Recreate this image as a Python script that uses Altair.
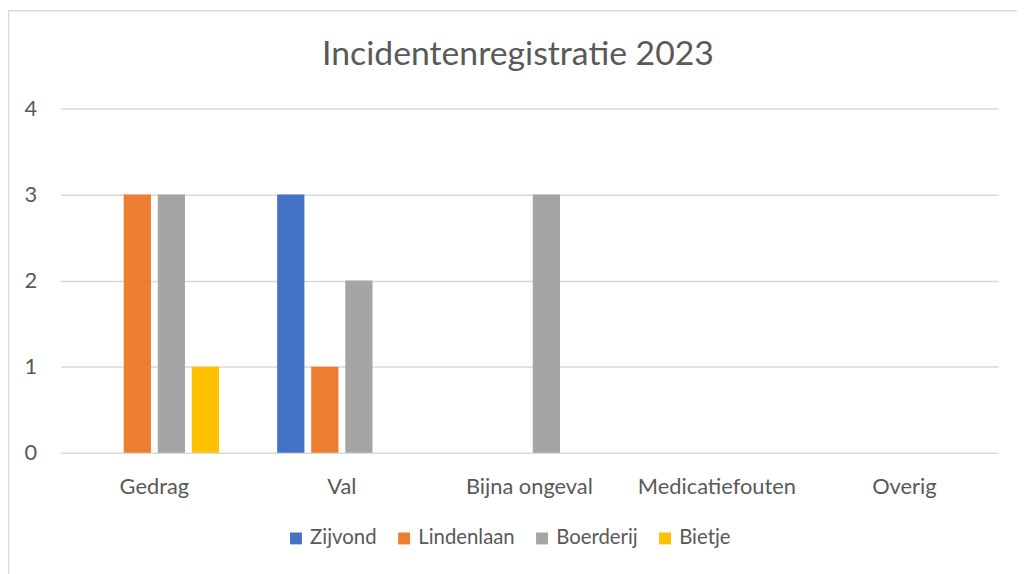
import altair as alt
import pandas as pd

categories = ["Gedrag", "Val", "Bijna ongeval", "Medicatiefouten", "Overig"]
series = ["Zijvond", "Lindenlaan", "Boerderij", "Bietje"]
colors = ["#4472C4", "#ED7D31", "#A5A5A5", "#FFC000"]
zijvond = [0, 3, 0, 0, 0]
lindenlaan = [3, 1, 0, 0, 0]
boerderij = [3, 2, 3, 0, 0]
bietje = [1, 0, 0, 0, 0]
title_text = "Incidentenregistratie 2023"

values = {"Zijvond": zijvond, "Lindenlaan": lindenlaan, "Boerderij": boerderij, "Bietje": bietje}
rows = []
for s in series:
    for c, v in zip(categories, values[s]):
        rows.append({"Categorie": c, "Locatie": s, "Aantal": v})
df = pd.DataFrame(rows)

FONT = "Lato"
TXT = "#595959"
GRID = "#D9D9D9"
W, H = 945, 347

bars = alt.Chart(df).mark_bar().encode(
    x=alt.X("Categorie:N", sort=categories,
            scale=alt.Scale(paddingInner=0.31, paddingOuter=0.155),
            axis=alt.Axis(title=None, labelAngle=0, labelFontSize=22, labelColor=TXT,
                          labelFont=FONT, domain=False, ticks=False, grid=False,
                          labelPadding=24)),
    xOffset=alt.XOffset("Locatie:N", sort=series,
                        scale=alt.Scale(paddingInner=0.2, paddingOuter=0)),
    y=alt.Y("Aantal:Q", scale=alt.Scale(domain=[0, 4]),
            axis=alt.Axis(title=None, values=[0, 1, 2, 3, 4], labelFontSize=22, labelColor=TXT,
                          labelFont=FONT, domain=False, ticks=False, labelPadding=24,
                          grid=True, gridColor=GRID, gridWidth=1.5)),
    color=alt.Color("Locatie:N", sort=series,
                    scale=alt.Scale(domain=series, range=colors),
                    legend=alt.Legend(title=None, orient="none", direction="horizontal",
                                      legendX=227, legendY=423, symbolType="square",
                                      symbolSize=144, symbolStrokeWidth=0,
                                      labelFontSize=20.5, labelColor=TXT, labelFont=FONT,
                                      columnPadding=17, labelOffset=4, padding=0)),
)

one = pd.DataFrame({"t": [title_text]})
title = alt.Chart(one).mark_text(font=FONT, fontSize=34, color=TXT, align="center",
                                 baseline="alphabetic").encode(
    text="t:N", x=alt.value(461), y=alt.value(-44)
)

border = alt.Chart(one).mark_rule(color=GRID, strokeWidth=1.5).encode(
    x=alt.value(-52.5), y=alt.value(-99), y2=alt.value(H + 140)
)
border_top = alt.Chart(one).mark_rule(color=GRID, strokeWidth=1.5).encode(
    x=alt.value(-53), x2=alt.value(W + 30), y=alt.value(-98.5)
)

chart = alt.layer(border, border_top, title, bars).properties(
    width=W, height=H,
    autosize=alt.AutoSizeParams(type="none"),
    padding={"left": 53, "top": 99, "right": 19, "bottom": 130},
).configure_view(stroke=None)

chart.save("out.html", embed_options={"renderer": "svg", "actions": False})
